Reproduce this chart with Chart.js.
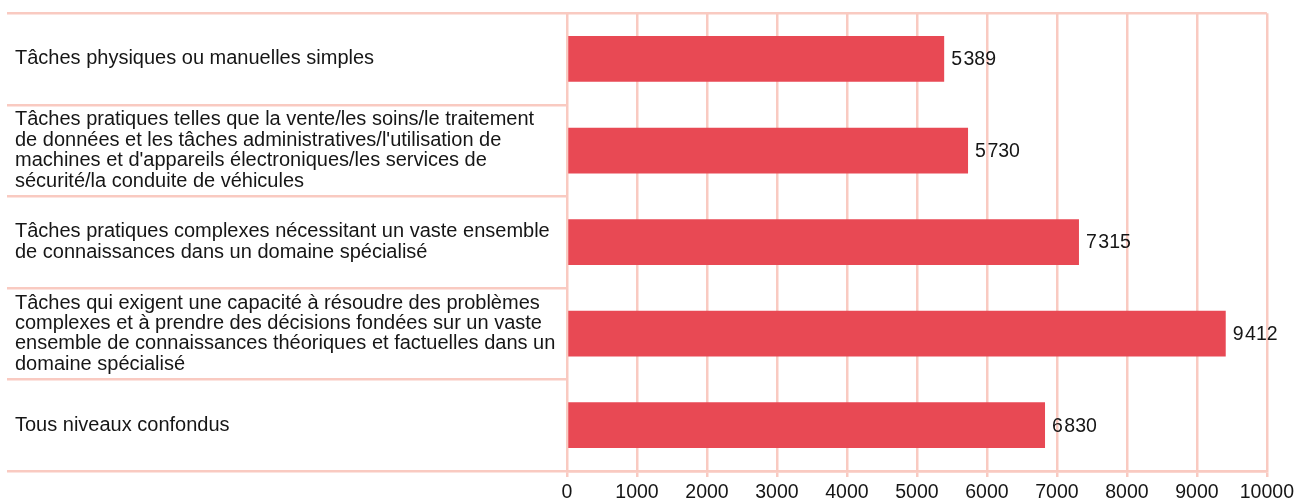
<!DOCTYPE html>
<html>
<head>
<meta charset="utf-8">
<script src="https://cdn.jsdelivr.net/npm/chart.js@4/dist/chart.umd.min.js"></script>
<style>
  html, body { margin: 0; padding: 0; background: #ffffff; }
  #wrap { width: 1298px; height: 501px; position: relative; }
</style>
</head>
<body>
<div id="wrap"><canvas id="c"></canvas></div>
<script>
const categories = [
  "Tâches physiques ou manuelles simples",
  ["Tâches pratiques telles que la vente/les soins/le traitement",
   "de données et les tâches administratives/l'utilisation de",
   "machines et d'appareils électroniques/les services de",
   "sécurité/la conduite de véhicules"],
  ["Tâches pratiques complexes nécessitant un vaste ensemble",
   "de connaissances dans un domaine spécialisé"],
  ["Tâches qui exigent une capacité à résoudre des problèmes",
   "complexes et à prendre des décisions fondées sur un vaste",
   "ensemble de connaissances théoriques et factuelles dans un",
   "domaine spécialisé"],
  "Tous niveaux confondus"
];
const values = [5389, 5730, 7315, 9412, 6830];
const xMin = 0, xMax = 10000, xStep = 1000;

const GRID = 'rgb(249,202,193)';
const BAR = '#E84954';
const TEXT = '#161616';
const FONT = "'Liberation Sans', Arial, Helvetica, sans-serif";

const valueLabels = {
  id: 'valueLabels',
  afterDatasetsDraw(chart) {
    const ctx = chart.ctx;
    const meta = chart.getDatasetMeta(0);
    ctx.save();
    ctx.font = "19.5px " + FONT;
    ctx.fillStyle = TEXT;
    ctx.textBaseline = 'middle';
    ctx.textAlign = 'left';
    meta.data.forEach((bar, i) => {
      const s = String(chart.data.datasets[0].data[i]);
      const head = s.length > 3 ? s.slice(0, s.length - 3) : '';
      const tail = s.length > 3 ? s.slice(s.length - 3) : s;
      let x = bar.x + 7;
      const y = bar.y + 1;
      if (head) {
        ctx.fillText(head, x, y);
        x += ctx.measureText(head).width + 1.5;
      }
      ctx.fillText(tail, x, y);
    });
    ctx.restore();
  }
};

new Chart(document.getElementById('c'), {
  type: 'bar',
  data: {
    labels: categories,
    datasets: [{
      data: values,
      backgroundColor: BAR,
      borderWidth: 0,
      barPercentage: 0.5,
      categoryPercentage: 1.0
    }]
  },
  options: {
    indexAxis: 'y',
    responsive: true,
    maintainAspectRatio: false,
    animation: false,
    layout: { padding: { left: 15, right: 30, top: 11, bottom: 0 } },
    plugins: {
      legend: { display: false },
      tooltip: { enabled: false },
      title: { display: false }
    },
    scales: {
      x: {
        type: 'linear',
        min: xMin,
        max: xMax,
        ticks: {
          stepSize: xStep,
          color: TEXT,
          padding: 4,
          font: { family: FONT, size: 19.5 },
          maxRotation: 0,
          autoSkip: false,
          callback: (v) => String(v)
        },
        grid: {
          color: GRID,
          lineWidth: 2.5,
          drawTicks: true,
          tickLength: 6,
          tickColor: GRID
        },
        border: { display: true, color: GRID, width: 2.5 },
        afterFit(scale) { scale.height = 30; }
      },
      y: {
        type: 'category',
        ticks: {
          crossAlign: 'far',
          color: TEXT,
          autoSkip: false,
          font: { family: FONT, size: 20, lineHeight: 1.02 }
        },
        grid: {
          offset: true,
          lineWidth: 2.5,
          drawTicks: true,
          tickLength: 560,
          tickColor: GRID,
          color: (c) => (c.index === 0 || c.index === undefined) ? GRID : 'rgba(0,0,0,0)'
        },
        border: { display: false },
        afterFit(scale) { scale.width = 552; }
      }
    }
  },
  plugins: [valueLabels]
});
</script>
</body>
</html>
